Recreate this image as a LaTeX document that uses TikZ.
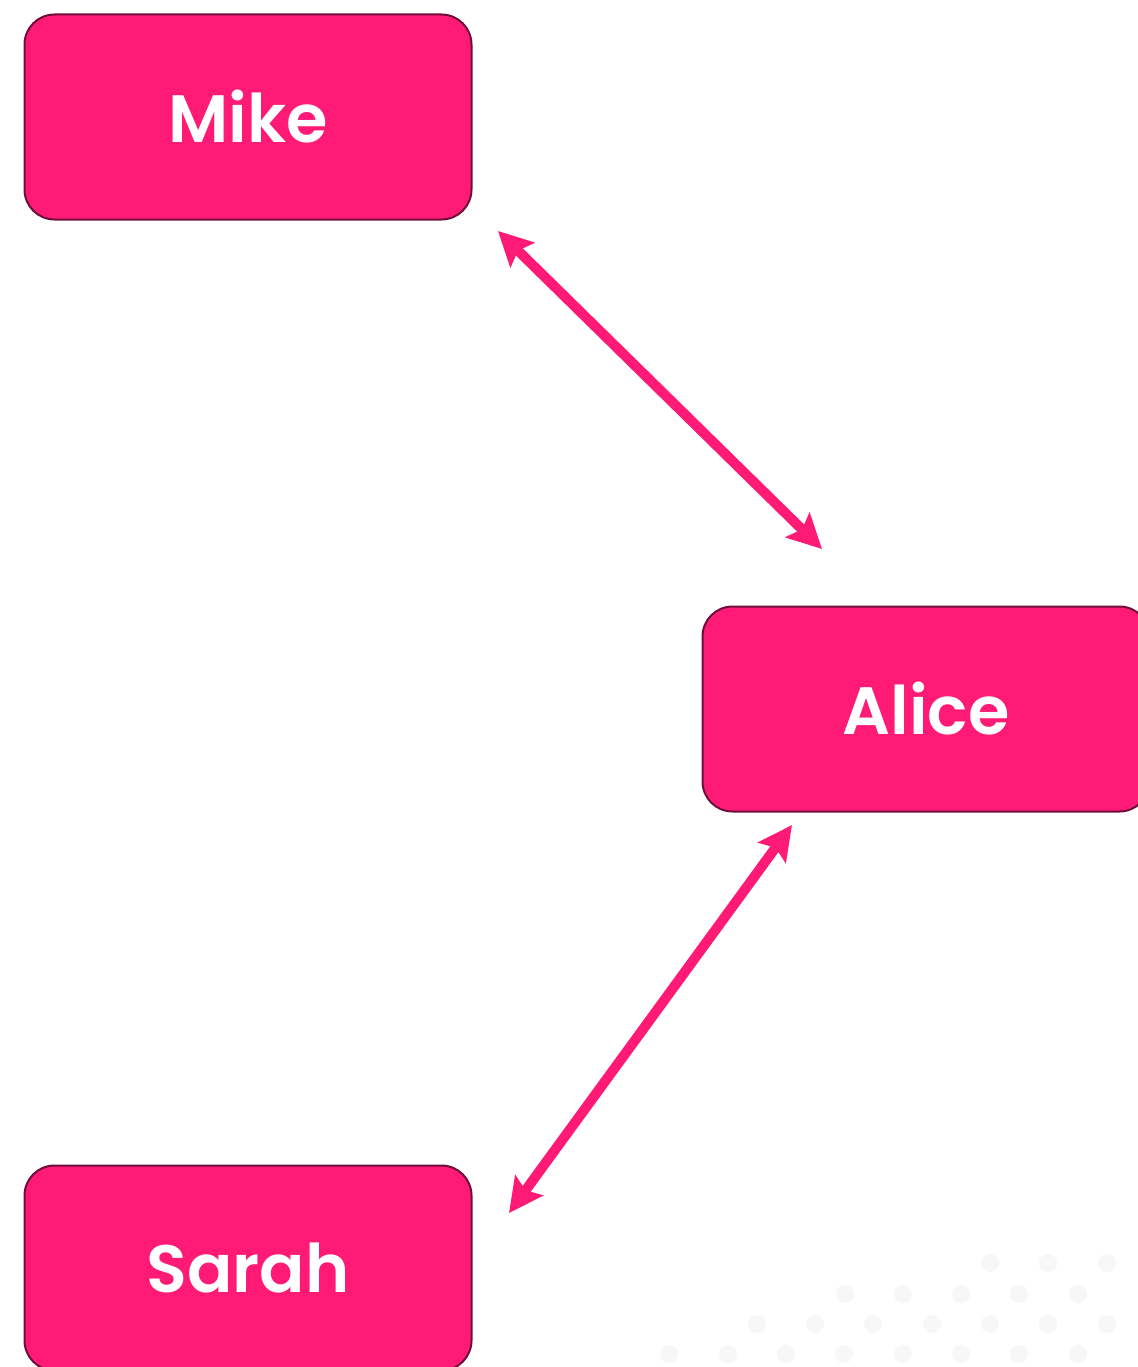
\documentclass[tikz,border=0pt]{standalone}
\usepackage{fontspec}
\setmainfont{Poppins}
\newfontfamily\namefont{Poppins}[UprightFont=* SemiBold]
\usetikzlibrary{arrows.meta}
\definecolor{hotpink}{HTML}{FF1A75}
\definecolor{boxedge}{HTML}{6E0E3A}
\definecolor{dotgrey}{HTML}{F7F7F7}
\tikzset{
  person/.style={draw=boxedge, line width=2pt, fill=hotpink, rounded corners=30pt,
    minimum width=447pt, minimum height=205pt, inner sep=0pt,
    text=white, font=\namefont\fontsize{67}{70}\selectfont},
  link/.style={draw=hotpink, line width=10pt,
    {Stealth[length=34pt, width=34pt, inset=6pt]}-{Stealth[length=34pt, width=34pt, inset=6pt]}},
  bgdot/.style={fill=dotgrey, draw=none}
}
\begin{document}
\begin{tikzpicture}[x=1pt, y=-1pt]
  \useasboundingbox (0,0) rectangle (1137,1367);
  \fill[white] (0,0) rectangle (1137,1367);
  % faint dot pattern in the lower right corner
  \foreach \x in {990,1048,1107} \fill[bgdot] (\x,1263) circle (9);
  \foreach \x in {845,903,961,1019,1078} \fill[bgdot] (\x,1294) circle (9);
  \foreach \x in {757,815,873,932,990,1048,1107} \fill[bgdot] (\x,1324) circle (9);
  \foreach \x in {669,728,786,844,903,961,1019,1078} \fill[bgdot] (\x,1354) circle (9);
  % people
  \node[person] (mike) at (248,117) {Mike};
  \node[person] (alice) at (926,709) {Alice};
  \node[person] (sarah) at (248,1268) {Sarah};
  % arrow end points
  \coordinate (mikeEnd) at (498,231);
  \coordinate (aliceTop) at (822,549);
  \coordinate (aliceBot) at (792,825);
  \coordinate (sarahEnd) at (509,1213);
  \draw[link] (mikeEnd) -- (aliceTop);
  \draw[link] (aliceBot) -- (sarahEnd);
\end{tikzpicture}
\end{document}
